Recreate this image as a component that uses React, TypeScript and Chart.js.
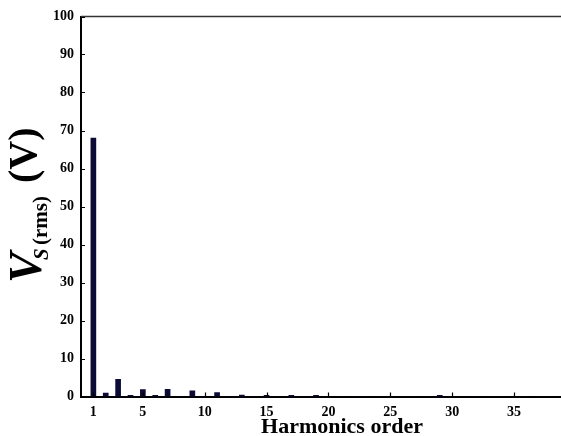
import React, { useEffect, useRef } from "react";
import { Chart, registerables } from "chart.js";

Chart.register(...registerables);

// Harmonic orders 1..38 and RMS voltage of each (V)
const harmonicOrders = [
  1, 2, 3, 4, 5, 6, 7, 8, 9, 10, 11, 12, 13, 14, 15, 16, 17, 18, 19, 20,
  21, 22, 23, 24, 25, 26, 27, 28, 29, 30, 31, 32, 33, 34, 35, 36, 37, 38,
];
const vsRms = [
  68, 0.9, 4.5, 0.3, 1.8, 0.3, 1.9, 0, 1.5, 0, 1.0, 0, 0.4, 0, 0.3, 0, 0.3, 0, 0.3, 0,
  0, 0, 0, 0, 0, 0, 0, 0, 0.3, 0, 0, 0, 0, 0, 0, 0, 0, 0,
];
const xTickValues = [1, 5, 10, 15, 20, 25, 30, 35];
const yTickValues = [0, 10, 20, 30, 40, 50, 60, 70, 80, 90, 100];
const xAxisTitle = "Harmonics order";
const yTitleMain = "V";
const yTitleSub = "S";
const yTitleRms = "(rms)";
const yTitleUnit = "(V)";

const FONT = "'Liberation Serif', 'Times New Roman', serif";

const decorPlugin = {
  id: "decor",
  afterDraw(chart: any) {
    const { ctx, chartArea } = chart;
    const xs = chart.scales.x;
    const ys = chart.scales.y;
    ctx.save();
    // top frame line
    ctx.strokeStyle = "#333";
    ctx.lineWidth = 1.5;
    ctx.beginPath();
    ctx.moveTo(chartArea.left, chartArea.top);
    ctx.lineTo(chartArea.right, chartArea.top);
    ctx.stroke();
    // inward ticks
    ctx.strokeStyle = "#000";
    ctx.lineWidth = 1.2;
    ctx.beginPath();
    xTickValues.forEach((v) => {
      const px = Math.round(xs.getPixelForValue(v)) + 0.5;
      ctx.moveTo(px, chartArea.bottom);
      ctx.lineTo(px, chartArea.bottom - 4);
    });
    yTickValues.forEach((v) => {
      const py = Math.round(ys.getPixelForValue(v)) + 0.5;
      ctx.moveTo(chartArea.left, py);
      ctx.lineTo(chartArea.left + 4, py);
    });
    ctx.stroke();

    // x-axis title
    ctx.fillStyle = "#000";
    ctx.font = `bold 22px ${FONT}`;
    ctx.textAlign = "center";
    ctx.textBaseline = "alphabetic";
    ctx.fillText(xAxisTitle, 342, 433);

    // y-axis title (rotated)
    ctx.translate(41, 283);
    ctx.rotate(-Math.PI / 2);
    ctx.textAlign = "left";
    ctx.font = `italic bold 46px ${FONT}`;
    ctx.fillText(yTitleMain, 0, 0);
    ctx.font = `italic bold 21px ${FONT}`;
    ctx.fillText(yTitleSub, 23, 7);
    ctx.font = `bold 21px ${FONT}`;
    ctx.fillText(yTitleRms, 38, 6);
    ctx.font = `bold 40px ${FONT}`;
    ctx.fillText(yTitleUnit, 100, -5);
    ctx.restore();
  },
};

export default function App() {
  const canvasRef = useRef<HTMLCanvasElement | null>(null);

  useEffect(() => {
    const canvas = canvasRef.current;
    if (!canvas) return;
    const chart = new Chart(canvas, {
      type: "bar",
      data: {
        datasets: [
          {
            data: harmonicOrders.map((h, i) => ({ x: h, y: vsRms[i] })),
            backgroundColor: "#0b0b35",
            borderWidth: 0,
            barThickness: 5,
          },
        ],
      },
      options: {
        animation: false,
        responsive: false,
        devicePixelRatio: 1,
        layout: { padding: { top: 16.5, right: 0, left: 0, bottom: 0 } },
        plugins: {
          legend: { display: false },
          tooltip: { enabled: false },
        },
        scales: {
          x: {
            type: "linear",
            offset: false,
            min: 0,
            max: 38.8,
            afterBuildTicks: (s: any) => {
              s.ticks = xTickValues.map((v) => ({ value: v }));
            },
            afterFit: (s: any) => {
              s.height = 436 - 396.5;
            },
            grid: { display: false, drawTicks: false, offset: false },
            border: { display: true, color: "#000", width: 2 },
            ticks: {
              color: "#000",
              font: { family: FONT, weight: "bold", size: 14 },
              padding: 7,
              maxRotation: 0,
              autoSkip: false,
            },
          },
          y: {
            min: 0,
            max: 100,
            afterBuildTicks: (s: any) => {
              s.ticks = yTickValues.map((v) => ({ value: v }));
            },
            afterFit: (s: any) => {
              s.width = 81;
            },
            grid: { display: false, drawTicks: false },
            border: { display: true, color: "#000", width: 2 },
            ticks: {
              color: "#000",
              font: { family: FONT, weight: "bold", size: 14 },
              padding: 7,
              autoSkip: false,
            },
          },
        },
      },
      plugins: [decorPlugin],
    } as any);
    return () => chart.destroy();
  }, []);

  return (
    <div style={{ position: "absolute", left: 0, top: 0, width: 561, height: 436, background: "#fff" }}>
      <canvas ref={canvasRef} width={561} height={436} style={{ display: "block", width: 561, height: 436 }} />
    </div>
  );
}
